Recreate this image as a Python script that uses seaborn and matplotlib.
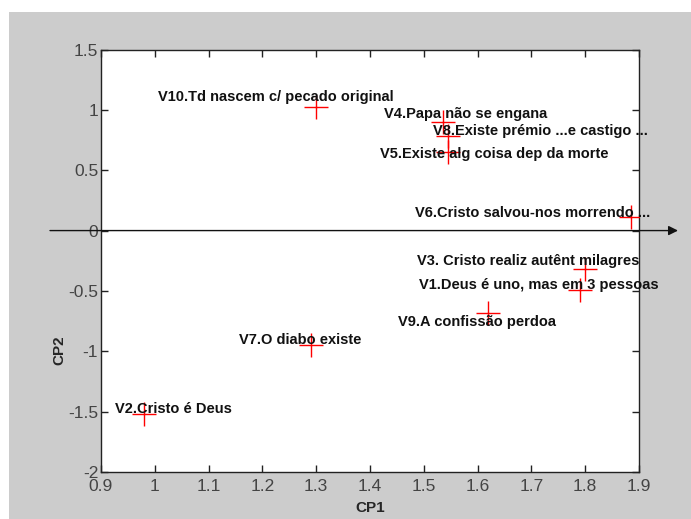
import matplotlib
matplotlib.use("Agg")
import matplotlib.pyplot as plt
from matplotlib.patches import Rectangle
import matplotlib.transforms as mtransforms
import seaborn as sns
import pandas as pd
import numpy as np

# ---- data ----
labels = ["V1.Deus é uno, mas em 3 pessoas", "V2.Cristo é Deus",
          "V3. Cristo realiz autênt milagres", "V4.Papa não se engana",
          "V5.Existe alg coisa dep da morte", "V6.Cristo salvou-nos morrendo ...",
          "V7.O diabo existe", "V8.Existe prémio ...e castigo ...",
          "V9.A confissão perdoa", "V10.Td nascem c/ pecado original"]
cp1 = [1.79, 0.98, 1.80, 1.535, 1.545, 1.885, 1.29, 1.545, 1.62, 1.30]
cp2 = [-0.49, -1.52, -0.32, 0.90, 0.65, 0.11, -0.95, 0.78, -0.68, 1.02]
xticks = [0.9, 1, 1.1, 1.2, 1.3, 1.4, 1.5, 1.6, 1.7, 1.8, 1.9]
xticklabels = ["0.9", "1", "1.1", "1.2", "1.3", "1.4", "1.5", "1.6", "1.7", "1.8", "1.9"]
yticks = [-2, -1.5, -1, -0.5, 0, 0.5, 1, 1.5]
yticklabels = ["-2", "-1.5", "-1", "-0.5", "0", "0.5", "1", "1.5"]

# label offsets in pixels (dx, dy with dy positive downward)
label_off_px = [(-161, -5), (-29, -5), (-168, -8), (-59, -8), (-68, 2),
                (-216, -4), (-72, -5), (-15, -5), (-90, 9), (-158, -10)]

df = pd.DataFrame({"CP1": cp1, "CP2": cp2, "label": labels})

sns.set_style("white")
W, H, DPI = 691, 519, 100
fig = plt.figure(figsize=(W / DPI, H / DPI), dpi=DPI)
fig.patch.set_facecolor("white")
fig.patches.append(Rectangle((9 / W, 0), 1 - 9 / W, 1 - 12 / H, transform=fig.transFigure,
                             facecolor="#cccccc", edgecolor="none", zorder=-10))

ax = fig.add_axes([101 / W, 1 - 472 / H, 538 / W, (472 - 49.5) / H])
ax.set_facecolor("white")

sns.scatterplot(data=df, x="CP1", y="CP2", marker="+", color="red", s=290,
                linewidth=1.0, ax=ax, zorder=3, legend=False)

ax.set_xlim(0.9, 1.9)
ax.set_ylim(-2, 1.5)
ax.set_xticks(xticks)
ax.set_xticklabels(xticklabels)
ax.set_yticks(yticks)
ax.set_yticklabels(yticklabels)

for s in ax.spines.values():
    s.set_color("#222222")
    s.set_linewidth(1.0)

ax.tick_params(direction="in", length=5, width=1, color="#222222",
               top=True, right=True, bottom=True, left=True,
               labelsize=12.5, labelcolor="#444444")
ax.tick_params(axis="x", pad=5)
ax.tick_params(axis="y", pad=2)
for t in ax.get_xticklabels() + ax.get_yticklabels():
    t.set_family("Liberation Sans")

ax.set_xlabel("CP1", fontsize=11, fontweight="bold", family="Liberation Sans")
ax.set_ylabel("CP2", fontsize=11, fontweight="bold", family="Liberation Sans")
ax.xaxis.set_label_coords(0.5, -0.068)
ax.yaxis.set_label_coords(-0.064, 0.289)

# labels
for (x, y, lab), (dx, dy) in zip(zip(cp1, cp2, labels), label_off_px):
    ax.annotate(lab, xy=(x, y), xytext=(dx * 0.72, -dy * 0.72), textcoords="offset points",
                ha="left", va="center", fontsize=10.5, fontweight="bold",
                family="Liberation Sans", color="#111111", zorder=4)

# horizontal arrow at y = 0
trans = mtransforms.blended_transform_factory(ax.transAxes, ax.transData)
ax.annotate("", xy=(577 / 538, 0), xytext=(-51 / 538, 0), xycoords=trans, textcoords=trans,
            arrowprops=dict(arrowstyle="-|>", color="#111111", lw=1.0,
                            mutation_scale=14, shrinkA=0, shrinkB=0),
            annotation_clip=False, zorder=5)

fig.savefig("out.png", dpi=DPI)
